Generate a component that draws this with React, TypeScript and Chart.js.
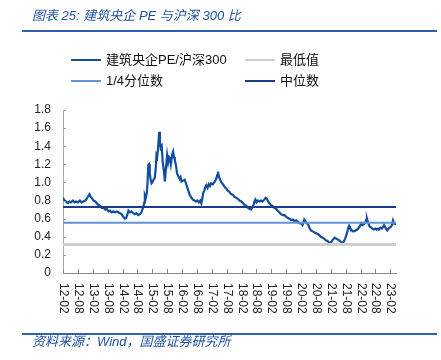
import React, { useEffect, useRef } from "react";
import { Chart, registerables } from "chart.js";

Chart.register(...registerables);

// months elapsed since 2012-02 (x position of each observation)
const monthsSince201202 = [
  0, 0.6, 1.2, 2, 2.6, 3.2, 4, 4.6, 5.2, 6, 6.8, 7.5, 8.2, 9, 9.6, 10.2, 10.7, 11.2, 11.8, 12.3,
  13, 13.6, 14.3, 15, 15.6, 16.3, 17, 17.6, 18.3, 19, 19.6, 20.3, 21, 21.6, 22.3, 23, 23.6, 24.3, 25, 25.5,
  26, 26.4, 27, 27.6, 28.3, 29, 29.6, 30.3, 31, 31.6, 32, 32.4, 32.8, 33, 33.4, 33.8, 34.1, 34.4, 34.7, 35,
  35.4, 35.7, 36, 36.5, 37, 37.4, 37.7, 38, 38.4, 38.8, 39.1, 39.4, 39.8, 40.2, 40.6, 41.1, 41.5, 42, 42.4, 42.8,
  43.1, 43.5, 44, 44.4, 44.8, 45.1, 45.6, 46, 46.5, 47, 47.4, 47.8, 48.4, 49.1, 49.7, 50.4, 51, 51.6, 52.4, 53,
  53.6, 54.2, 54.8, 55.4, 55.8, 56.2, 56.5, 57, 57.4, 57.8, 58.3, 58.8, 59.3, 59.8, 60.4, 61.2, 61.8, 62.2, 62.5, 62.9,
  63.4, 63.9, 64.5, 65, 65.5, 65.9, 66.5, 67, 67.5, 68, 68.6, 69.2, 69.9, 70.5, 71.2, 71.9, 72.6, 73.3, 74, 74.6,
  75.2, 75.8, 76.3, 76.8, 77.2, 77.6, 78, 78.6, 79.2, 79.9, 80.5, 81.2, 81.7, 82.2, 82.7, 83.3, 83.9, 84.5, 85.2, 85.9,
  86.5, 87.2, 87.9, 88.6, 89.3, 90, 90.6, 91.3, 92, 92.7, 93.3, 94, 94.6, 95.3, 96, 96.6, 97, 97.3, 97.8, 98.3,
  98.8, 99.4, 100, 100.7, 101.3, 102, 102.7, 103.3, 104, 104.7, 105.3, 106, 106.6, 107.2, 107.8, 108.3, 108.9, 109.6, 110.2, 110.8,
  111.4, 112, 112.7, 113.3, 113.8, 114.3, 114.8, 115.1, 115.4, 115.7, 116, 116.5, 117, 117.4, 118, 118.7, 119.3, 119.8, 120.3, 120.8,
  121.4, 121.9, 122.3, 122.6, 123, 123.4, 123.8, 124.3, 124.8, 125.4, 126, 126.5, 127, 127.4, 128, 128.6, 129.1, 129.5, 130, 130.5,
  130.8, 131.3, 131.8, 132.2, 132.7, 133.1, 133.5, 134, 134.3,
];

// 建筑央企PE / 沪深300 ratio
const ratioValues = [
  0.83, 0.8, 0.79, 0.77, 0.79, 0.78, 0.8, 0.78, 0.79, 0.78, 0.8, 0.78, 0.79, 0.8, 0.82, 0.85, 0.87, 0.84, 0.82, 0.8,
  0.79, 0.77, 0.75, 0.74, 0.72, 0.72, 0.7, 0.71, 0.68, 0.69, 0.67, 0.68, 0.67, 0.68, 0.67, 0.66, 0.65, 0.62, 0.6, 0.61,
  0.65, 0.69, 0.67, 0.68, 0.66, 0.65, 0.66, 0.64, 0.65, 0.67, 0.7, 0.73, 0.78, 0.86, 0.83, 0.88, 1.0, 1.19, 1.2, 1.1,
  1.02, 0.99, 1.0, 1.03, 1.05, 1.15, 1.3, 1.28, 1.4, 1.56, 1.45, 1.38, 1.4, 1.23, 1.15, 1.01, 1.15, 1.3, 1.22, 1.28,
  1.27, 1.2, 1.3, 1.34, 1.28, 1.25, 1.18, 1.1, 1.07, 1.04, 1.06, 1.01, 1.02, 1.03, 0.98, 0.92, 0.87, 0.84, 0.81, 0.8,
  0.79, 0.8, 0.78, 0.8, 0.77, 0.82, 0.88, 0.91, 0.95, 0.97, 0.94, 0.98, 0.96, 0.99, 0.98, 1.01, 1.04, 1.08, 1.12, 1.06,
  1.03, 1.0, 0.98, 0.96, 0.94, 0.93, 0.91, 0.9, 0.88, 0.87, 0.86, 0.84, 0.83, 0.82, 0.8, 0.79, 0.77, 0.75, 0.74, 0.72,
  0.71, 0.7, 0.72, 0.75, 0.79, 0.81, 0.78, 0.8, 0.79, 0.8, 0.79, 0.81, 0.83, 0.82, 0.79, 0.77, 0.75, 0.74, 0.72, 0.71,
  0.69, 0.67, 0.65, 0.64, 0.64, 0.62, 0.61, 0.6, 0.585, 0.59, 0.575, 0.58, 0.57, 0.55, 0.55, 0.53, 0.56, 0.59, 0.57, 0.55,
  0.54, 0.5, 0.47, 0.46, 0.45, 0.44, 0.43, 0.42, 0.4, 0.39, 0.38, 0.36, 0.355, 0.34, 0.33, 0.345, 0.37, 0.39, 0.38, 0.37,
  0.36, 0.345, 0.33, 0.35, 0.38, 0.42, 0.47, 0.5, 0.52, 0.5, 0.49, 0.47, 0.46, 0.46, 0.47, 0.48, 0.5, 0.52, 0.55, 0.53,
  0.54, 0.56, 0.59, 0.6, 0.56, 0.53, 0.51, 0.5, 0.49, 0.48, 0.49, 0.48, 0.49, 0.48, 0.5, 0.49, 0.51, 0.53, 0.5, 0.48,
  0.47, 0.49, 0.5, 0.51, 0.53, 0.58, 0.55, 0.54, 0.55,
];

const minValue = 0.315; // 最低值
const quartileValue = 0.555; // 1/4分位数
const medianValue = 0.73; // 中位数

const xTickLabels = [
  "12-02", "12-08", "13-02", "13-08", "14-02", "14-08", "15-02", "15-08", "16-02", "16-08", "17-02", "17-08",
  "18-02", "18-08", "19-02", "19-08", "20-02", "20-08", "21-02", "21-08", "22-02", "22-08", "23-02",
];
const xTickStepMonths = 6;
const xAxisMax = 134.3;
const yMin = 0;
const yMax = 1.8;
const yStep = 0.2;

const legendItems = [
  { label: "建筑央企PE/沪深300", color: "#124EA0", left: 71, top: 60 },
  { label: "最低值", color: "#CFCFCF", left: 245, top: 60 },
  { label: "1/4分位数", color: "#5E93D6", left: 71, top: 81 },
  { label: "中位数", color: "#1B3D8A", left: 245, top: 81 },
];

const FONT = '"Liberation Sans", Arial, "Noto Sans CJK SC", sans-serif';

export default function App() {
  const canvasRef = useRef<HTMLCanvasElement | null>(null);

  useEffect(() => {
    document.body.style.margin = "0";
    const canvas = canvasRef.current;
    if (!canvas) return;

    const series = monthsSince201202.map((m, i) => ({ x: m, y: ratioValues[i] }));
    const hline = (v: number) => [
      { x: 0, y: v },
      { x: xAxisMax, y: v },
    ];

    const axisTickPlugin = {
      id: "axisTickPlugin",
      afterDraw(chart: any) {
        const ctx = chart.ctx;
        const xs = chart.scales.x;
        const ys = chart.scales.y;
        const { bottom, left } = chart.chartArea;
        ctx.save();
        ctx.lineWidth = 1;
        // inward y ticks
        ctx.strokeStyle = "#999999";
        ys.ticks.forEach((t: any) => {
          const py = Math.round(ys.getPixelForValue(t.value)) + 0.5;
          ctx.beginPath();
          ctx.moveTo(left, py);
          ctx.lineTo(left + 3, py);
          ctx.stroke();
        });
        // inward x ticks + rotated labels
        ctx.strokeStyle = "#888888";
        ctx.fillStyle = "#222222";
        ctx.font = "12px " + FONT;
        xTickLabels.forEach((lab, i) => {
          const px = Math.round(xs.getPixelForValue(i * xTickStepMonths)) + 0.5;
          ctx.beginPath();
          ctx.moveTo(px, bottom);
          ctx.lineTo(px, bottom - 4);
          ctx.stroke();
          ctx.save();
          ctx.translate(px, bottom + 10);
          ctx.rotate(Math.PI / 2);
          ctx.textAlign = "left";
          ctx.textBaseline = "middle";
          ctx.fillText(lab, 0, 0);
          ctx.restore();
        });
        ctx.restore();
      },
    };

    const chart = new Chart(canvas, {
      type: "line",
      data: {
        datasets: [
          {
            label: "建筑央企PE/沪深300",
            data: series,
            borderColor: legendItems[0].color,
            borderWidth: 2.2,
            pointRadius: 0,
            tension: 0,
            order: 1,
          },
          {
            label: "最低值",
            data: hline(minValue),
            borderColor: legendItems[1].color,
            borderWidth: 3,
            pointRadius: 0,
            order: 0,
          },
          {
            label: "1/4分位数",
            data: hline(quartileValue),
            borderColor: legendItems[2].color,
            borderWidth: 2,
            pointRadius: 0,
            order: 0,
          },
          {
            label: "中位数",
            data: hline(medianValue),
            borderColor: legendItems[3].color,
            borderWidth: 2,
            pointRadius: 0,
            order: 0,
          },
        ],
      },
      options: {
        animation: false,
        responsive: false,
        maintainAspectRatio: false,
        layout: { padding: { left: 0, top: 110, right: 45, bottom: 0 } },
        plugins: {
          legend: { display: false },
          title: { display: false },
          tooltip: { enabled: false },
        },
        scales: {
          x: {
            type: "linear",
            min: 0,
            max: xAxisMax,
            ticks: { display: false },
            grid: { display: false, drawTicks: false },
            border: { display: true, color: "#888888", width: 1 },
            afterFit: (scale: any) => {
              scale.height = 87;
            },
          },
          y: {
            min: yMin,
            max: yMax,
            ticks: {
              stepSize: yStep,
              padding: 12,
              color: "#222222",
              font: { size: 12, family: FONT },
            },
            grid: {
              display: false,
              drawTicks: false,
            },
            border: { display: true, color: "#AAAAAA", width: 1 },
            afterFit: (scale: any) => {
              scale.width = 63;
            },
          },
        },
      },
      plugins: [axisTickPlugin],
    } as any);

    return () => chart.destroy();
  }, []);

  return (
    <div
      style={{
        position: "fixed",
        left: 0,
        top: 0,
        width: 441,
        height: 360,
        background: "#ffffff",
        overflow: "hidden",
        fontFamily: FONT,
      }}
    >
      <canvas ref={canvasRef} width={441} height={360} style={{ position: "absolute", left: 0, top: 0 }} />
      <div
        style={{
          position: "absolute",
          left: 32,
          top: 8,
          fontSize: 13,
          lineHeight: "16px",
          fontStyle: "italic",
          color: "#1F4F9F",
          whiteSpace: "nowrap",
        }}
      >
        图表 25:  建筑央企 PE 与沪深 300 比
      </div>
      <div style={{ position: "absolute", left: 22, top: 30, width: 415, height: 2, background: "#2E62AE" }} />
      {legendItems.map((it) => (
        <div key={it.label}>
          <div
            style={{
              position: "absolute",
              left: it.left,
              top: it.top - 1,
              width: 30,
              height: 2,
              background: it.color,
            }}
          />
          <div
            style={{
              position: "absolute",
              left: it.left + 35,
              top: it.top - 8,
              fontSize: 13,
              lineHeight: "16px",
              color: "#111111",
              whiteSpace: "nowrap",
            }}
          >
            {it.label}
          </div>
        </div>
      ))}
      <div style={{ position: "absolute", left: 22, top: 333, width: 415, height: 2, background: "#2E62AE" }} />
      <div
        style={{
          position: "absolute",
          left: 32,
          top: 334,
          fontSize: 13,
          lineHeight: "16px",
          fontStyle: "italic",
          color: "#1F4F9F",
          whiteSpace: "nowrap",
        }}
      >
        资料来源：Wind，国盛证券研究所
      </div>
    </div>
  );
}
